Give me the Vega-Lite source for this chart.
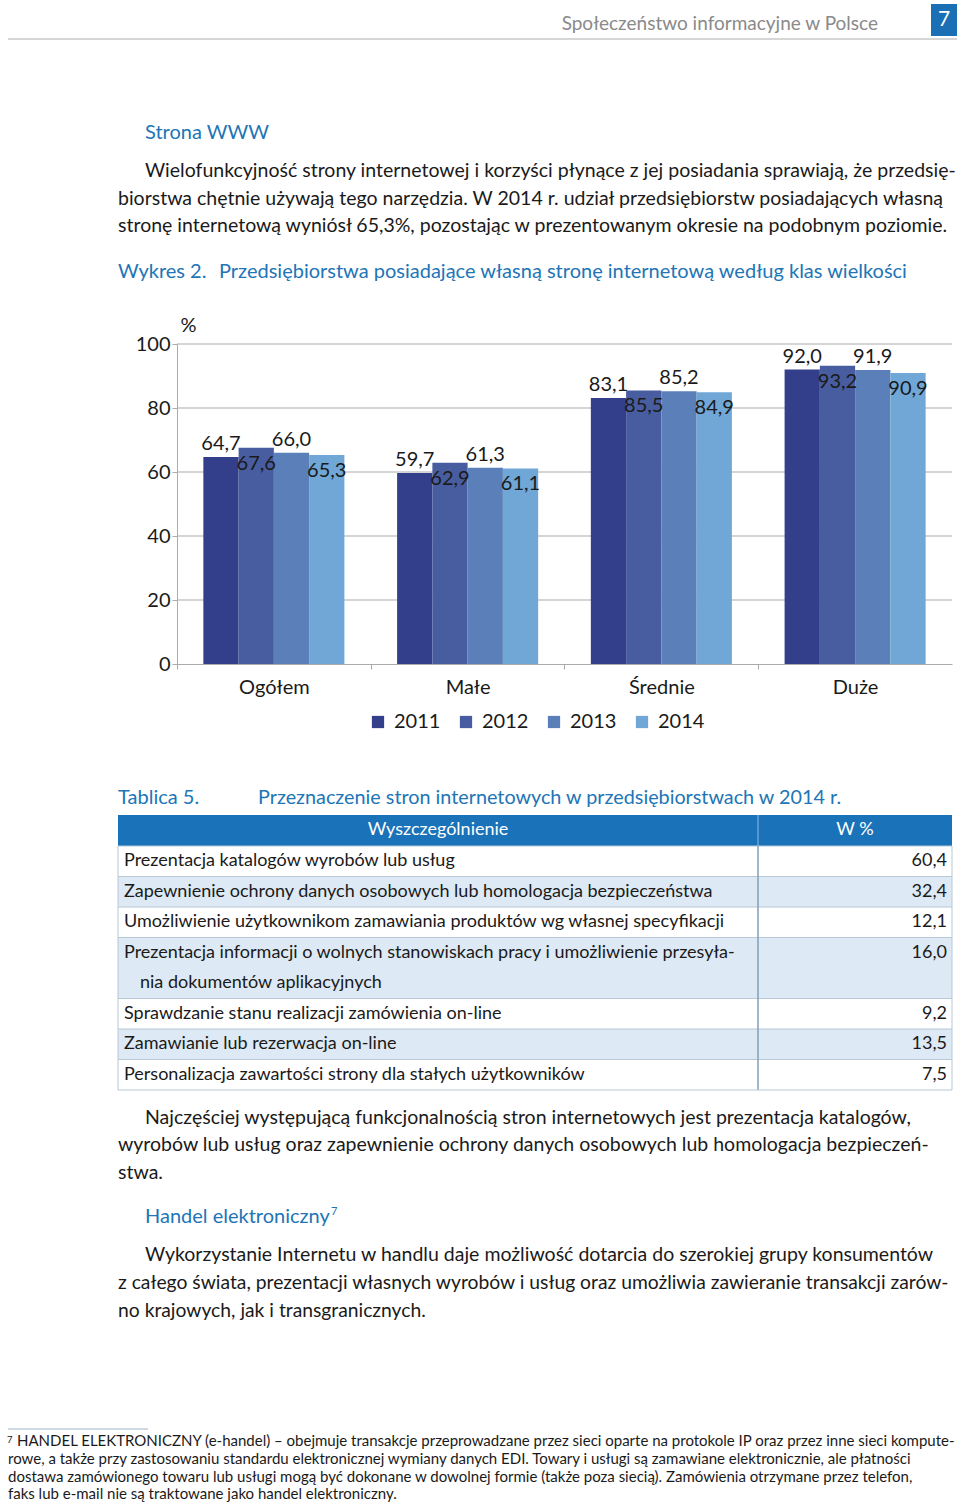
{
  "$schema": "https://vega.github.io/schema/vega-lite/v6.json",
  "padding": 0,
  "spacing": 0,
  "bounds": "flush",
  "config": {
    "font": "Lato",
    "view": {"stroke": null},
    "locale": {"number": {"decimal": ",", "thousands": " ", "grouping": [3], "currency": ["", ""]}}
  },
  "vconcat": [
    {
      "width": 960,
      "height": 344,
      "layer": [
        {
          "data": {"values": [{"t": "Społeczeństwo informacyjne w Polsce"}]},
          "mark": {"type": "text", "align": "right", "baseline": "alphabetic", "fontSize": 19, "color": "#8a8a8a"},
          "encoding": {"text": {"field": "t"}, "x": {"value": 878}, "y": {"value": 30}}
        },
        {
          "data": {"values": [{"t": "7"}]},
          "mark": {"type": "rect", "color": "#1b6fb5"},
          "encoding": {"x": {"value": 931}, "x2": {"value": 957}, "y": {"value": 4}, "y2": {"value": 36}}
        },
        {
          "data": {"values": [{"t": "7"}]},
          "mark": {"type": "text", "align": "center", "baseline": "middle", "fontSize": 21, "color": "white"},
          "encoding": {"text": {"field": "t"}, "x": {"value": 944}, "y": {"value": 20}}
        },
        {
          "data": {"values": [{"t": ""}]},
          "mark": {"type": "rule", "color": "#d6d6d6", "strokeWidth": 2},
          "encoding": {"x": {"value": 8}, "x2": {"value": 957}, "y": {"value": 39}}
        },
        {
          "data": {"values": [{"t": "Strona WWW"}]},
          "mark": {"type": "text", "align": "left", "baseline": "alphabetic", "fontSize": 20, "color": "#2175b6"},
          "encoding": {"text": {"field": "t"}, "x": {"value": 145}, "y": {"value": 139}}
        },
        {
          "data": {"values": [{"t": "Wielofunkcyjność strony internetowej i korzyści płynące z jej posiadania sprawiają, że przedsię-"}]},
          "mark": {"type": "text", "align": "left", "baseline": "alphabetic", "fontSize": 19.5, "color": "#1a1a1a"},
          "encoding": {"text": {"field": "t"}, "x": {"value": 145}, "y": {"value": 177}}
        },
        {
          "data": {"values": [{"t": "biorstwa chętnie używają tego narzędzia. W 2014 r. udział przedsiębiorstw posiadających własną\nstronę internetową wyniósł 65,3%, pozostając w prezentowanym okresie na podobnym poziomie."}]},
          "mark": {"type": "text", "align": "left", "baseline": "alphabetic", "fontSize": 19.5, "lineBreak": "\n", "lineHeight": 27.5, "color": "#1a1a1a"},
          "encoding": {"text": {"field": "t"}, "x": {"value": 118}, "y": {"value": 204.5}}
        },
        {
          "data": {"values": [{"t": "Wykres 2."}]},
          "mark": {"type": "text", "align": "left", "baseline": "alphabetic", "fontSize": 20, "color": "#2175b6"},
          "encoding": {"text": {"field": "t"}, "x": {"value": 118}, "y": {"value": 278}}
        },
        {
          "data": {"values": [{"t": "Przedsiębiorstwa posiadające własną stronę internetową według klas wielkości"}]},
          "mark": {"type": "text", "align": "left", "baseline": "alphabetic", "fontSize": 20, "color": "#2175b6"},
          "encoding": {"text": {"field": "t"}, "x": {"value": 219}, "y": {"value": 278}}
        }
      ]
    },
    {
      "width": 960,
      "height": 320,
      "layer": [
        {
          "data": {"values": [{"g": 20}, {"g": 40}, {"g": 60}, {"g": 80}, {"g": 100}]},
          "mark": {"type": "rule", "color": "#ababab", "strokeWidth": 1},
          "encoding": {
            "y": {"field": "g", "type": "quantitative"},
            "x": {"value": 177},
            "x2": {"value": 952}
          }
        },
        {
          "data": {"name": "bars"},
          "mark": {"type": "bar"},
          "encoding": {
            "x": {
              "field": "cat", "type": "nominal", "sort": ["Ogółem", "Małe", "Średnie", "Duże"],
              "scale": {"range": [177, 952], "paddingInner": 0.272, "paddingOuter": 0.136},
              "axis": {"title": null, "tickOffset": -96.9, "labelOffset": 96.9, "domainColor": "#ababab", "tickColor": "#ababab", "tickSize": 5, "labelFontSize": 20, "labelColor": "#1a1a1a", "labelPadding": 8, "labelAngle": 0}
            },
            "xOffset": {"field": "year", "type": "nominal", "scale": {"paddingInner": 0, "paddingOuter": 0}},
            "y": {
              "field": "value", "type": "quantitative", "scale": {"domain": [0, 100], "nice": false},
              "axis": {"offset": -177, "values": [0, 20, 40, 60, 80, 100], "grid": false, "domainColor": "#ababab", "tickColor": "#ababab", "tickSize": 5, "labelFontSize": 20, "labelColor": "#1a1a1a", "labelPadding": 2, "title": "%", "titleAngle": 0, "titleAlign": "left", "titleBaseline": "middle", "titleX": 3, "titleY": -19, "titleFontSize": 20, "titleFontWeight": "normal", "titleColor": "#1a1a1a"}
            },
            "color": {
              "field": "year", "type": "nominal",
              "scale": {"domain": ["2011", "2012", "2013", "2014"], "range": ["#343f8b", "#485d9f", "#5b7fb8", "#70a7d7"]},
              "legend": {"orient": "none", "legendX": 368, "legendY": 712, "direction": "horizontal", "title": null, "symbolType": "square", "symbolSize": 150, "symbolStrokeWidth": 0, "labelFontSize": 20, "labelColor": "#1a1a1a", "columnPadding": 15, "labelOffset": 6, "padding": 0}
            }
          }
        },
        {
          "data": {"name": "bars"},
          "transform": [{"filter": "datum.year == '2011' || datum.year == '2013'"}],
          "mark": {"type": "text", "baseline": "middle", "dy": -13, "fontSize": 20, "color": "#1a1a1a"},
          "encoding": {
            "x": {"field": "cat", "type": "nominal", "sort": ["Ogółem", "Małe", "Średnie", "Duże"]},
            "xOffset": {"field": "year", "type": "nominal"},
            "y": {"field": "value", "type": "quantitative"},
            "text": {"field": "value", "type": "quantitative", "format": ".1f"}
          }
        },
        {
          "data": {"name": "bars"},
          "transform": [{"filter": "datum.year == '2012' || datum.year == '2014'"}],
          "mark": {"type": "text", "baseline": "middle", "dy": 16, "fontSize": 20, "color": "#1a1a1a"},
          "encoding": {
            "x": {"field": "cat", "type": "nominal", "sort": ["Ogółem", "Małe", "Średnie", "Duże"]},
            "xOffset": {"field": "year", "type": "nominal"},
            "y": {"field": "value", "type": "quantitative"},
            "text": {"field": "value", "type": "quantitative", "format": ".1f"}
          }
        }
      ]
    },
    {
      "width": 960,
      "height": 839,
      "layer": [
        {
          "data": {"values": [{"t": "Tablica 5."}]},
          "mark": {"type": "text", "align": "left", "baseline": "alphabetic", "fontSize": 20, "color": "#2175b6"},
          "encoding": {"text": {"field": "t"}, "x": {"value": 118}, "y": {"value": 140}}
        },
        {
          "data": {"values": [{"t": "Przeznaczenie stron internetowych w przedsiębiorstwach w 2014 r."}]},
          "mark": {"type": "text", "align": "left", "baseline": "alphabetic", "fontSize": 19.8, "color": "#2175b6"},
          "encoding": {"text": {"field": "t"}, "x": {"value": 258}, "y": {"value": 140}}
        },
        {
          "data": {"values": [{"t": ""}]},
          "mark": {"type": "rect", "color": "#1a72b9"},
          "encoding": {"x": {"value": 118}, "x2": {"value": 952}, "y": {"value": 151}, "y2": {"value": 182}}
        },
        {
          "data": {"values": [{"t": ""}]},
          "mark": {"type": "rule", "color": "#8dbbe3", "strokeWidth": 1},
          "encoding": {"x": {"value": 758}, "y": {"value": 151}, "y2": {"value": 182}}
        },
        {
          "data": {"values": [{"t": "Wyszczególnienie", "c": 438}, {"t": "W %", "c": 855}]},
          "mark": {"type": "text", "align": "center", "baseline": "middle", "fontSize": 18, "color": "white"},
          "encoding": {"text": {"field": "t"}, "x": {"field": "c", "type": "quantitative", "scale": null}, "y": {"value": 166}}
        },
        {
          "data": {"name": "table"},
          "layer": [
            {
              "mark": {"type": "rect"},
              "encoding": {
                "y": {"field": "slot", "type": "ordinal", "axis": null, "scale": {"type": "band", "domain": [1, 2, 3, 4, 5, 6, 7, 8], "range": [182, 426], "paddingInner": 0, "paddingOuter": 0}},
                "x": {"value": 118},
                "x2": {"value": 952},
                "color": {"condition": {"test": "datum.row % 2 == 0", "value": "#dde9f4"}, "value": "#ffffff"}
              }
            },
            {
              "transform": [{"filter": "datum.first"}],
              "mark": {"type": "rule", "color": "#b7c8d6", "strokeWidth": 1},
              "encoding": {
                "y": {"field": "slot", "type": "ordinal", "bandPosition": 0},
                "x": {"value": 118},
                "x2": {"value": 952}
              }
            },
            {
              "transform": [{"filter": "datum.first"}],
              "mark": {"type": "text", "align": "left", "baseline": "middle", "fontSize": 18, "color": "#1a1a1a"},
              "encoding": {
                "y": {"field": "slot", "type": "ordinal"},
                "x": {"value": 124},
                "text": {"field": "label"}
              }
            },
            {
              "transform": [{"filter": "!datum.first"}],
              "mark": {"type": "text", "align": "left", "baseline": "middle", "fontSize": 18, "color": "#1a1a1a"},
              "encoding": {
                "y": {"field": "slot", "type": "ordinal"},
                "x": {"value": 140},
                "text": {"field": "label"}
              }
            },
            {
              "transform": [{"filter": "datum.value != null"}],
              "mark": {"type": "text", "align": "right", "baseline": "middle", "fontSize": 18, "color": "#1a1a1a"},
              "encoding": {
                "y": {"field": "slot", "type": "ordinal"},
                "x": {"value": 947},
                "text": {"field": "value", "type": "quantitative", "format": ".1f"}
              }
            }
          ]
        },
        {
          "data": {"values": [{"c": 118}, {"c": 952}]},
          "mark": {"type": "rule", "color": "#b7c8d6", "strokeWidth": 1},
          "encoding": {"x": {"field": "c", "type": "quantitative", "scale": null}, "y": {"value": 182}, "y2": {"value": 426}}
        },
        {
          "data": {"values": [{"c": 758}]},
          "mark": {"type": "rule", "color": "#7f9fbb", "strokeWidth": 1.5},
          "encoding": {"x": {"field": "c", "type": "quantitative", "scale": null}, "y": {"value": 182}, "y2": {"value": 426}}
        },
        {
          "data": {"values": [{"t": ""}]},
          "mark": {"type": "rule", "color": "#b7c8d6", "strokeWidth": 1},
          "encoding": {"x": {"value": 118}, "x2": {"value": 952}, "y": {"value": 426}}
        },
        {
          "data": {"values": [{"t": "Najczęściej występującą funkcjonalnością stron internetowych jest prezentacja katalogów,"}]},
          "mark": {"type": "text", "align": "left", "baseline": "alphabetic", "fontSize": 19.5, "color": "#1a1a1a"},
          "encoding": {"text": {"field": "t"}, "x": {"value": 145}, "y": {"value": 460}}
        },
        {
          "data": {"values": [{"t": "wyrobów lub usług oraz zapewnienie ochrony danych osobowych lub homologacja bezpieczeń-\nstwa."}]},
          "mark": {"type": "text", "align": "left", "baseline": "alphabetic", "fontSize": 19.5, "lineBreak": "\n", "lineHeight": 27.5, "color": "#1a1a1a"},
          "encoding": {"text": {"field": "t"}, "x": {"value": 118}, "y": {"value": 487}}
        },
        {
          "data": {"values": [{"t": "Handel elektroniczny"}]},
          "mark": {"type": "text", "align": "left", "baseline": "alphabetic", "fontSize": 20, "color": "#2175b6"},
          "encoding": {"text": {"field": "t"}, "x": {"value": 145}, "y": {"value": 559}}
        },
        {
          "data": {"values": [{"t": "7"}]},
          "mark": {"type": "text", "align": "left", "baseline": "alphabetic", "fontSize": 11, "color": "#2175b6"},
          "encoding": {"text": {"field": "t"}, "x": {"value": 331}, "y": {"value": 551}}
        },
        {
          "data": {"values": [{"t": "Wykorzystanie Internetu w handlu daje możliwość dotarcia do szerokiej grupy konsumentów"}]},
          "mark": {"type": "text", "align": "left", "baseline": "alphabetic", "fontSize": 19.5, "color": "#1a1a1a"},
          "encoding": {"text": {"field": "t"}, "x": {"value": 145}, "y": {"value": 597}}
        },
        {
          "data": {"values": [{"t": "z całego świata, prezentacji własnych wyrobów i usług oraz umożliwia zawieranie transakcji zarów-\nno krajowych, jak i transgranicznych."}]},
          "mark": {"type": "text", "align": "left", "baseline": "alphabetic", "fontSize": 19.3, "lineBreak": "\n", "lineHeight": 28, "color": "#1a1a1a"},
          "encoding": {"text": {"field": "t"}, "x": {"value": 118}, "y": {"value": 625}}
        },
        {
          "data": {"values": [{"t": ""}]},
          "mark": {"type": "rule", "color": "#9fb3c6", "strokeWidth": 1},
          "encoding": {"x": {"value": 8}, "x2": {"value": 148}, "y": {"value": 765}}
        },
        {
          "data": {"values": [{"t": "7"}]},
          "mark": {"type": "text", "align": "left", "baseline": "alphabetic", "fontSize": 9.5, "color": "#1a1a1a"},
          "encoding": {"text": {"field": "t"}, "x": {"value": 7}, "y": {"value": 779}}
        },
        {
          "data": {"values": [{"t": "HANDEL ELEKTRONICZNY (e-handel) – obejmuje transakcje przeprowadzane przez sieci oparte na protokole IP oraz przez inne sieci kompute-"}]},
          "mark": {"type": "text", "align": "left", "baseline": "alphabetic", "fontSize": 15, "color": "#1a1a1a"},
          "encoding": {"text": {"field": "t"}, "x": {"value": 17}, "y": {"value": 782}}
        },
        {
          "data": {"values": [{"t": "rowe, a także przy zastosowaniu standardu elektronicznej wymiany danych EDI. Towary i usługi są zamawiane elektronicznie, ale płatności\ndostawa zamówionego towaru lub usługi mogą być dokonane w dowolnej formie (także poza siecią). Zamówienia otrzymane przez telefon,\nfaks lub e-mail nie są traktowane jako handel elektroniczny."}]},
          "mark": {"type": "text", "align": "left", "baseline": "alphabetic", "fontSize": 15, "lineBreak": "\n", "lineHeight": 17.6, "color": "#1a1a1a"},
          "encoding": {"text": {"field": "t"}, "x": {"value": 8}, "y": {"value": 800}}
        }
      ]
    }
  ],
  "datasets": {
    "bars": [
      {"cat": "Ogółem", "year": "2011", "value": 64.7},
      {"cat": "Ogółem", "year": "2012", "value": 67.6},
      {"cat": "Ogółem", "year": "2013", "value": 66.0},
      {"cat": "Ogółem", "year": "2014", "value": 65.3},
      {"cat": "Małe", "year": "2011", "value": 59.7},
      {"cat": "Małe", "year": "2012", "value": 62.9},
      {"cat": "Małe", "year": "2013", "value": 61.3},
      {"cat": "Małe", "year": "2014", "value": 61.1},
      {"cat": "Średnie", "year": "2011", "value": 83.1},
      {"cat": "Średnie", "year": "2012", "value": 85.5},
      {"cat": "Średnie", "year": "2013", "value": 85.2},
      {"cat": "Średnie", "year": "2014", "value": 84.9},
      {"cat": "Duże", "year": "2011", "value": 92.0},
      {"cat": "Duże", "year": "2012", "value": 93.2},
      {"cat": "Duże", "year": "2013", "value": 91.9},
      {"cat": "Duże", "year": "2014", "value": 90.9}
    ],
    "table": [
      {"slot": 1, "row": 1, "first": true, "label": "Prezentacja katalogów wyrobów lub usług", "value": 60.4},
      {"slot": 2, "row": 2, "first": true, "label": "Zapewnienie ochrony danych osobowych lub homologacja bezpieczeństwa", "value": 32.4},
      {"slot": 3, "row": 3, "first": true, "label": "Umożliwienie użytkownikom zamawiania produktów wg własnej specyfikacji", "value": 12.1},
      {"slot": 4, "row": 4, "first": true, "label": "Prezentacja informacji o wolnych stanowiskach pracy i umożliwienie przesyła-", "value": 16.0},
      {"slot": 5, "row": 4, "first": false, "label": "nia dokumentów aplikacyjnych", "value": null},
      {"slot": 6, "row": 5, "first": true, "label": "Sprawdzanie stanu realizacji zamówienia on-line", "value": 9.2},
      {"slot": 7, "row": 6, "first": true, "label": "Zamawianie lub rezerwacja on-line", "value": 13.5},
      {"slot": 8, "row": 7, "first": true, "label": "Personalizacja zawartości strony dla stałych użytkowników", "value": 7.5}
    ]
  }
}
